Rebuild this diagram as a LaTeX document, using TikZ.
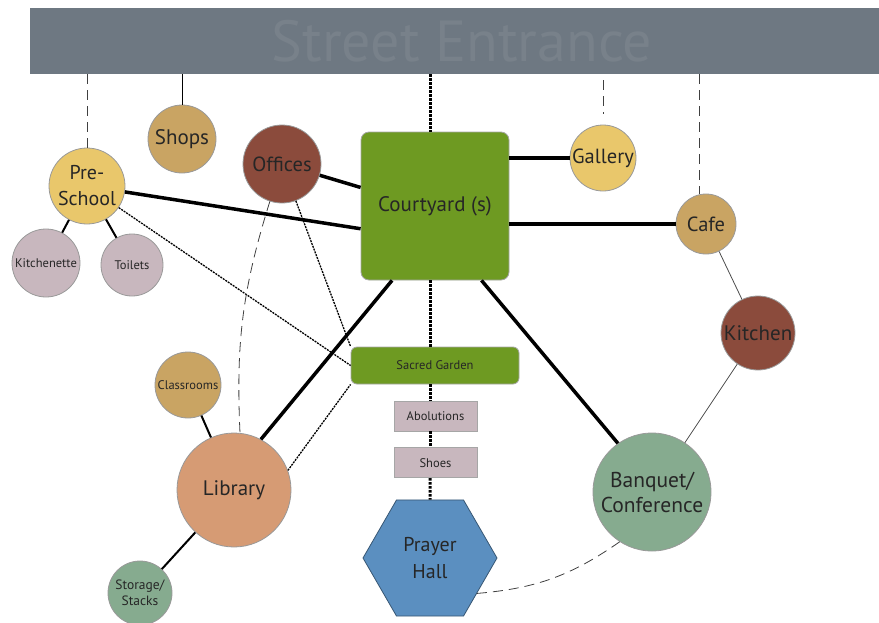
\documentclass[tikz,border=0pt]{standalone}
\usepackage{fontspec}
\setmainfont{PT Sans}
\usetikzlibrary{shapes.geometric,positioning}
\definecolor{bargray}{RGB}{110,120,130}
\definecolor{barlight}{RGB}{120,129,138}
\definecolor{sand}{RGB}{233,199,107}
\definecolor{tan}{RGB}{201,164,99}
\definecolor{rust}{RGB}{139,75,60}
\definecolor{grass}{RGB}{110,154,34}
\definecolor{mauve}{RGB}{200,183,190}
\definecolor{salmon}{RGB}{214,155,116}
\definecolor{sage}{RGB}{134,171,143}
\definecolor{hallblue}{RGB}{91,143,192}

\begin{document}
\begin{tikzpicture}[x=1pt,y=-1pt,
   room/.style={circle,draw=black!40,line width=0.8pt,inner sep=0pt,align=center,text=black!85},
   block/.style={rectangle,draw=black!35,line width=0.8pt,inner sep=0pt,align=center,text=black!85},
   link/.style={line width=3.5pt},
   sublink/.style={line width=2pt},
   thinlink/.style={line width=0.8pt,draw=black!70},
   seam/.style={line width=1.3pt,dash pattern=on 2pt off 1pt},
   loose/.style={line width=0.8pt,dash pattern=on 10pt off 6pt,draw=black!75},
   spine/.style={line width=3pt,dash pattern=on 2.5pt off 1.5pt}]
   \useasboundingbox (0,0) rectangle (879,622);
   % street and rooms
   \node[fill=bargray,minimum width=849pt,minimum height=66pt,inner sep=0pt,text=barlight,
         font=\fontsize{58}{58}\selectfont] (bar) at (454.5,41) {\hspace*{15pt}Street Entrance};
   \node[room,fill=tan,minimum size=68pt,font=\fontsize{21}{26}\selectfont] (shops) at (182,139) {Shops};
   \node[room,fill=sand,minimum size=76pt,font=\fontsize{20}{26}\selectfont] (pre) at (87,186) {Pre-\\School};
   \node[room,fill=rust,minimum size=78pt,font=\fontsize{20.5}{22}\selectfont] (off) at (282,164) {Offices};
   \node[block,fill=grass,rounded corners=8pt,minimum size=148pt,font=\fontsize{21}{22}\selectfont] (court) at (435,206) {Courtyard (s)};
   \node[room,fill=sand,minimum size=66pt,font=\fontsize{20.5}{22}\selectfont] (gal) at (603,158) {Gallery};
   \node[room,fill=tan,minimum size=60pt,font=\fontsize{20.5}{22}\selectfont] (cafe) at (706,224) {Cafe};
   \node[room,fill=rust,minimum size=74pt,font=\fontsize{21}{22}\selectfont] (kit) at (758,333) {Kitchen};
   \node[room,fill=sage,minimum size=118pt,font=\fontsize{21.5}{25}\selectfont] (banq) at (652,492) {Banquet/\\Conference};
   \node[room,fill=mauve,minimum size=68pt,font=\fontsize{12.5}{14}\selectfont] (kn) at (46,263) {Kitchenette};
   \node[room,fill=mauve,minimum size=62pt,font=\fontsize{12.5}{14}\selectfont] (wc) at (132,265) {Toilets};
   \node[room,fill=tan,minimum size=66pt,font=\fontsize{12.5}{14}\selectfont] (cls) at (188,385) {Classrooms};
   \node[room,fill=salmon,minimum size=114pt,font=\fontsize{21}{25}\selectfont] (lib) at (234,490) {Library};
   \node[room,fill=sage,minimum size=64pt,font=\fontsize{13.5}{16}\selectfont] (sto) at (140,593) {Storage/\\Stacks};
   \node[block,fill=grass,rounded corners=6pt,minimum width=168pt,minimum height=37pt,font=\fontsize{12.5}{14}\selectfont] (sg) at (435,365.5) {Sacred Garden};
   \node[block,fill=mauve,minimum width=83pt,minimum height=30pt,font=\fontsize{12.5}{14}\selectfont] (abl) at (435.5,416) {Abolutions};
   \node[block,fill=mauve,minimum width=83pt,minimum height=30pt,font=\fontsize{12.5}{14}\selectfont,below=16pt of abl] (shoe) {Shoes};
   \node[regular polygon,regular polygon sides=6,draw=hallblue!60!black,line width=0.8pt,fill=hallblue,
         minimum size=134pt,inner sep=0pt,align=center,text=black!85,font=\fontsize{20}{27}\selectfont] (hall) at (430,558) {Prayer\\Hall};
   % the way in
   \draw[spine] (bar.south -| hall) -- (court.north -| hall);
   \draw[spine] (court.south -| hall) -- (sg.north -| hall);
   \draw[spine] (sg.south -| hall) -- (abl.north -| hall);
   \draw[spine] (abl.south -| hall) -- (shoe.north -| hall);
   \draw[spine] (shoe.south -| hall) -- (hall.north);
   \draw[line width=1pt] (bar.south -| shops) -- (shops);
   \draw[loose] (bar.south -| pre) -- (pre);
   \draw[loose,shorten <=6pt,shorten >=11pt] (bar.south -| gal) -- (gal);
   \draw[loose] (bar.south -| cafe.103) -- (cafe.103);
   % links
   \path[link]
(pre) edge (court.197)
(off) edge (court.166)
(gal -| court.east) edge (gal)
(cafe -| court.east) edge (cafe)
(court.240) edge (lib.62)
(court.302) edge (banq.125);
   \path[sublink]
(pre) edge (kn)
	edge (wc)
(cls) edge (lib)
(lib) edge (sto);
   \path[thinlink] (cafe) edge (kit) (kit) edge (banq);
   \path[seam]
(pre) edge (sg.west)
(off) edge (sg.north west)
(lib.20) edge (sg.south west);
   \path[loose]
(off.252) edge [bend right=10] (lib.84)
(hall.-37) edge [bend right=15] (banq.237);
\end{tikzpicture}
\end{document}
